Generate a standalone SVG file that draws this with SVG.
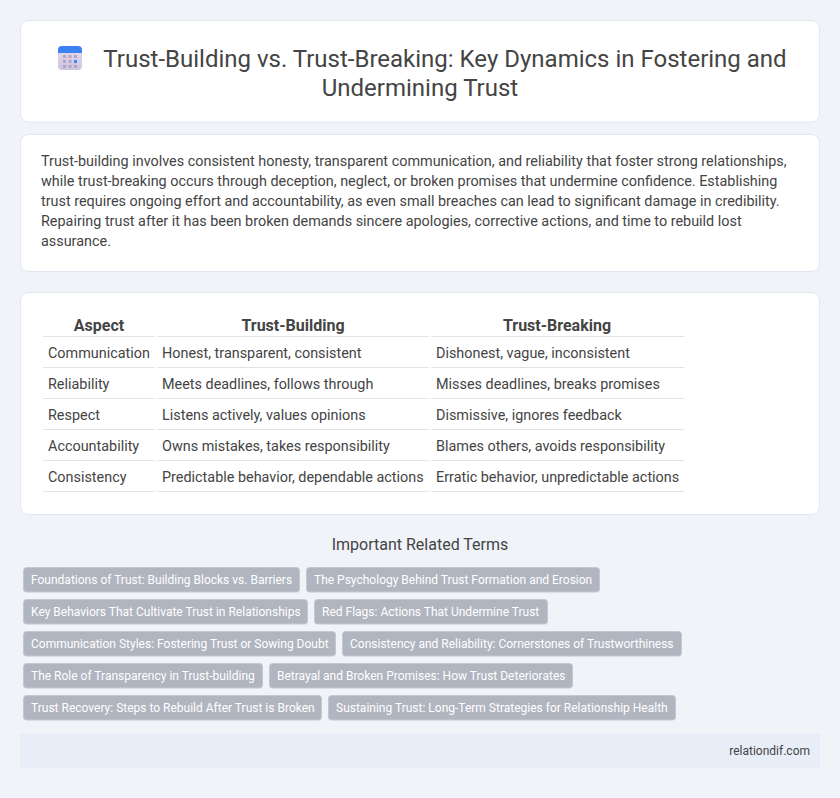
<svg xmlns="http://www.w3.org/2000/svg" width="840" height="798" viewBox="0 0 840 798">
<defs><linearGradient id="ic" x1="0" y1="0" x2="0" y2="1"><stop offset="0" stop-color="#e4dcee"/><stop offset="1" stop-color="#cfc4de"/></linearGradient></defs>
<style>
text{font-family:Roboto,"Liberation Sans",sans-serif;fill:#444}
.card{fill:#fff;stroke:#e3e7f1;stroke-width:1}
.title{font-size:24px;text-anchor:middle}
.para{font-size:14.4px}
.th{font-size:16px;font-weight:700;text-anchor:middle}
.td{font-size:14.4px}
.rule{stroke:#dfe3ea;stroke-width:1}
.tag rect{fill:#b0b5bf;stroke:#c4c8d0;stroke-width:1}
.tag text{font-size:12px;fill:#fff}
.d{fill:#b3a5c8}
</style>
<rect width="840" height="798" fill="#f0f3f8"/>
<g id="title-card">
<rect class="card" x="20.5" y="20.5" width="799" height="101.500" rx="8"/>
<g id="icon">
<rect x="58" y="46" width="24" height="24" rx="4" fill="url(#ic)"/>
<path d="M58 53V50a4 4 0 0 1 4-4h16a4 4 0 0 1 4 4v3z" fill="#3b82f0"/>
<g class="d"><rect x="63" y="55" width="3" height="3"/><rect x="68.500" y="55" width="3" height="3"/><rect x="74" y="55" width="3" height="3"/><rect x="63" y="60" width="3" height="3"/><rect x="68.500" y="60" width="3" height="3"/><rect x="63" y="65" width="3" height="3"/><rect x="68.500" y="65" width="3" height="3"/><rect x="74" y="65" width="3" height="3"/></g>
<rect x="74" y="60" width="3" height="3" fill="#2f8ef5"/>
</g>
<text class="title" x="445" y="67">Trust-Building vs. Trust-Breaking: Key Dynamics in Fostering and</text>
<text class="title" x="420" y="96">Undermining Trust</text>
</g>
<g id="summary-card">
<rect class="card" x="20.5" y="134.500" width="799" height="137" rx="8"/>
<text class="para" x="41" y="166">Trust-building involves consistent honesty, transparent communication, and reliability that foster strong relationships,</text>
<text class="para" x="41" y="186">while trust-breaking occurs through deception, neglect, or broken promises that undermine confidence. Establishing</text>
<text class="para" x="41" y="206">trust requires ongoing effort and accountability, as even small breaches can lead to significant damage in credibility.</text>
<text class="para" x="41" y="226">Repairing trust after it has been broken demands sincere apologies, corrective actions, and time to rebuild lost</text>
<text class="para" x="41" y="246">assurance.</text>
</g>
<g id="table-card">
<rect class="card" x="20.5" y="292.500" width="799" height="222" rx="8"/>
<text class="th" x="99" y="331">Aspect</text><text class="th" x="293" y="331">Trust-Building</text><text class="th" x="557" y="331">Trust-Breaking</text>
<g class="rule">
<path d="M43 336.500H155M157 336.500H429M431 336.500H684M43 367.500H155M157 367.500H429M431 367.500H684M43 398.500H155M157 398.500H429M431 398.500H684M43 429.500H155M157 429.500H429M431 429.500H684M43 460.500H155M157 460.500H429M431 460.500H684M43 491.500H155M157 491.500H429M431 491.500H684"/>
</g>
<text class="td" x="48" y="358">Communication</text><text class="td" x="162" y="358">Honest, transparent, consistent</text><text class="td" x="436" y="358">Dishonest, vague, inconsistent</text>
<text class="td" x="48" y="389">Reliability</text><text class="td" x="162" y="389">Meets deadlines, follows through</text><text class="td" x="436" y="389">Misses deadlines, breaks promises</text>
<text class="td" x="48" y="420">Respect</text><text class="td" x="162" y="420">Listens actively, values opinions</text><text class="td" x="436" y="420">Dismissive, ignores feedback</text>
<text class="td" x="48" y="451">Accountability</text><text class="td" x="162" y="451">Owns mistakes, takes responsibility</text><text class="td" x="436" y="451">Blames others, avoids responsibility</text>
<text class="td" x="48" y="482">Consistency</text><text class="td" x="162" y="482">Predictable behavior, dependable actions</text><text class="td" x="436" y="482">Erratic behavior, unpredictable actions</text>
</g>
<g id="related-terms">
<text x="420" y="550" text-anchor="middle" font-size="16">Important Related Terms</text>
<g class="tag"><rect x="23.500" y="567.500" width="276" height="24.500" rx="3"/><text x="31" y="584">Foundations of Trust: Building Blocks vs. Barriers</text></g>
<g class="tag"><rect x="306.500" y="567.500" width="293" height="24.500" rx="3"/><text x="314" y="584">The Psychology Behind Trust Formation and Erosion</text></g>
<g class="tag"><rect x="23.500" y="599.500" width="284" height="24.500" rx="3"/><text x="31" y="616">Key Behaviors That Cultivate Trust in Relationships</text></g>
<g class="tag"><rect x="314.500" y="599.500" width="233" height="24.500" rx="3"/><text x="322" y="616">Red Flags: Actions That Undermine Trust</text></g>
<g class="tag"><rect x="23.500" y="631.500" width="312" height="24.500" rx="3"/><text x="31" y="648">Communication Styles: Fostering Trust or Sowing Doubt</text></g>
<g class="tag"><rect x="342.500" y="631.500" width="339" height="24.500" rx="3"/><text x="350" y="648">Consistency and Reliability: Cornerstones of Trustworthiness</text></g>
<g class="tag"><rect x="23.500" y="663.500" width="239" height="24.500" rx="3"/><text x="31" y="680">The Role of Transparency in Trust-building</text></g>
<g class="tag"><rect x="269.500" y="663.500" width="303" height="24.500" rx="3"/><text x="277" y="680">Betrayal and Broken Promises: How Trust Deteriorates</text></g>
<g class="tag"><rect x="23.500" y="695.500" width="298" height="24.500" rx="3"/><text x="31" y="712">Trust Recovery: Steps to Rebuild After Trust is Broken</text></g>
<g class="tag"><rect x="328.500" y="695.500" width="347" height="24.500" rx="3"/><text x="336" y="712">Sustaining Trust: Long-Term Strategies for Relationship Health</text></g>
</g>
<g id="footer">
<rect x="20" y="734" width="800" height="34" fill="#e8eef8"/>
<text x="810" y="755" text-anchor="end" font-size="12">relationdif.com</text>
</g>
</svg>
